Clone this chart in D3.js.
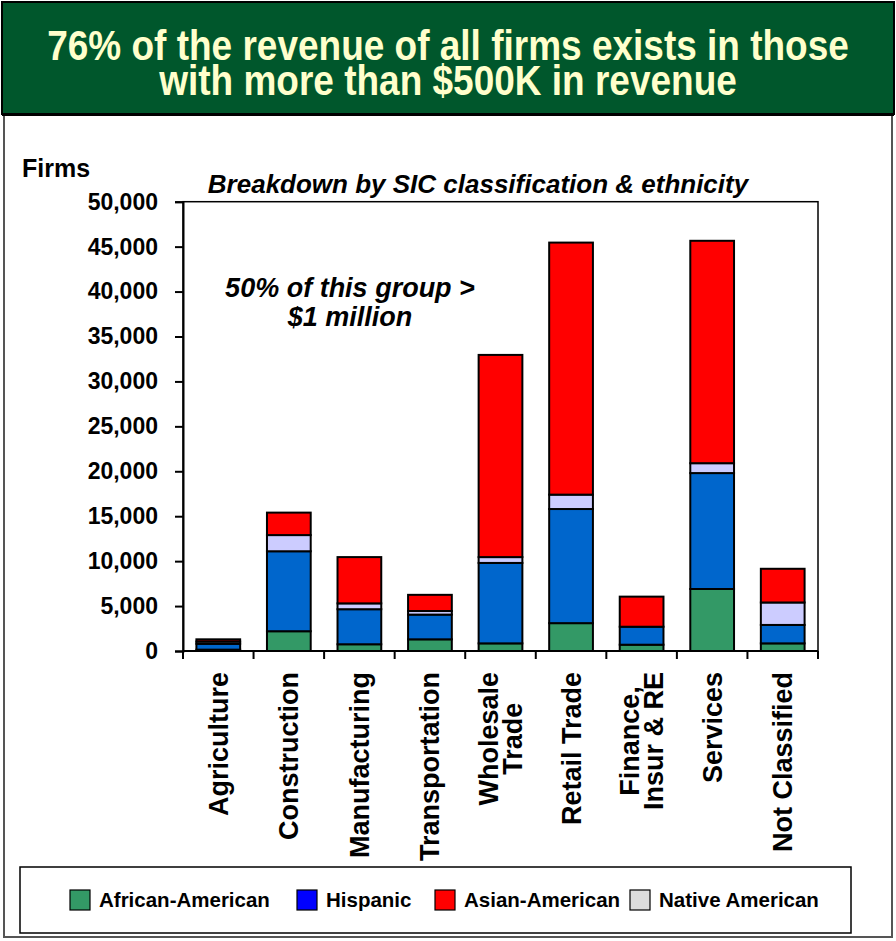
<!DOCTYPE html>
<html>
<head>
<meta charset="utf-8">
<script src="https://cdn.jsdelivr.net/npm/d3@7/dist/d3.min.js"></script>
<style>
  html, body { margin: 0; padding: 0; background: #ffffff; }
  svg { display: block; }
  text { font-family: "Liberation Sans", Arial, Helvetica, sans-serif; }
</style>
</head>
<body>
<svg id="chart" width="896" height="941"></svg>
<script>
// ---------- data ----------
const titleLines = ["76% of the revenue of all firms exists in those", "with more than $500K in revenue"];
const subtitle = "Breakdown by SIC classification & ethnicity";
const noteLines = ["50% of this group >", "$1 million"];
const yAxisLabel = "Firms";
const categories = ["Agriculture", "Construction", "Manufacturing", "Transportation", "Wholesale Trade", "Retail Trade", "Finance, Insur & RE", "Services", "Not Classified"];
const categoryLines = [["Agriculture"], ["Construction"], ["Manufacturing"], ["Transportation"], ["Wholesale", "Trade"], ["Retail Trade"], ["Finance,", "Insur & RE"], ["Services"], ["Not Classified"]];
const africanAmerican = [150, 2200, 750, 1300, 850, 3100, 700, 6900, 850];
const hispanic = [650, 8900, 3900, 2750, 8950, 12700, 2000, 12900, 2050];
const nativeAmerican = [250, 1800, 650, 400, 650, 1600, 0, 1100, 2500];
const asianAmerican = [250, 2500, 5150, 1800, 22500, 28050, 3350, 24750, 3750];
const yTicks = [0, 5000, 10000, 15000, 20000, 25000, 30000, 35000, 40000, 45000, 50000];
const legendNames = ["African-American", "Hispanic", "Asian-American", "Native American"];

// ---------- styles ----------
const barColors = { "African-American": "#339966", "Hispanic": "#0066CC", "Native American": "#CCCCFF", "Asian-American": "#FF0000" };
const legendColors = { "African-American": "#339966", "Hispanic": "#0000FF", "Asian-American": "#FF0000", "Native American": "#DDDDDD" };
const stackOrder = ["African-American", "Hispanic", "Native American", "Asian-American"];
const seriesData = { "African-American": africanAmerican, "Hispanic": hispanic, "Native American": nativeAmerican, "Asian-American": asianAmerican };

const svg = d3.select("#chart");

// outer panel
svg.append("rect").attr("x", 4).attr("y", 2).attr("width", 888).attr("height", 935)
  .attr("fill", "#fff").attr("stroke", "#555").attr("stroke-width", 2);

// title block
svg.append("rect").attr("x", 2).attr("y", 2).attr("width", 892).attr("height", 112)
  .attr("fill", "#00572C").attr("stroke", "#000").attr("stroke-width", 2);
svg.append("line").attr("x1", 2).attr("x2", 894).attr("y1", 114.5).attr("y2", 114.5)
  .attr("stroke", "#000").attr("stroke-width", 3);
const titleScaleY = 1.15;
const title = svg.append("text").attr("transform", `translate(448,0) scale(1,${titleScaleY})`)
  .attr("text-anchor", "middle").attr("fill", "#FFFFCC")
  .attr("font-size", 37).attr("font-weight", "bold");
title.selectAll("tspan").data(titleLines).join("tspan")
  .attr("x", 0).attr("y", (d, i) => (60 + i * 35) / titleScaleY).text(d => d);

// scales
const plotLeft = 183, plotRight = 818, plotTop = 201.7, plotBottom = 651;
const x = d3.scaleBand().domain(categories).range([plotLeft, plotRight]).padding(0);
const y = d3.scaleLinear().domain([0, 50000]).range([plotBottom, plotTop]);
const barW = x.bandwidth() * 0.62;

// stack
const rows = categories.map((c, i) => {
  const r = { category: c };
  stackOrder.forEach(k => r[k] = seriesData[k][i]);
  return r;
});
const stacked = d3.stack().keys(stackOrder)(rows);

// plot frame
svg.append("rect").attr("x", plotLeft).attr("y", plotTop)
  .attr("width", plotRight - plotLeft).attr("height", plotBottom - plotTop)
  .attr("fill", "none").attr("stroke", "#000").attr("stroke-width", 1.5);

// bars
const g = svg.append("g");
stacked.forEach(layer => {
  g.selectAll(null).data(layer).join("rect")
    .attr("x", d => x(d.data.category) + (x.bandwidth() - barW) / 2)
    .attr("y", d => y(d[1]))
    .attr("width", barW)
    .attr("height", d => y(d[0]) - y(d[1]))
    .attr("fill", barColors[layer.key])
    .attr("stroke", "#000").attr("stroke-width", 2);
});

// y axis
const yAxis = svg.append("g").attr("transform", `translate(${plotLeft},0)`)
  .call(d3.axisLeft(y).tickValues(yTicks).tickSize(8).tickPadding(17).tickFormat(d3.format(",")));
yAxis.select(".domain").attr("stroke", "#000").attr("stroke-width", 2);
yAxis.selectAll(".tick line").attr("stroke", "#000").attr("stroke-width", 2);
yAxis.selectAll(".tick text").attr("font-size", 23).attr("font-weight", "bold")
  .attr("fill", "#000").attr("font-family", "Liberation Sans, Arial, sans-serif");

// x axis baseline and boundary ticks
svg.append("line").attr("x1", plotLeft).attr("x2", plotRight).attr("y1", plotBottom).attr("y2", plotBottom)
  .attr("stroke", "#000").attr("stroke-width", 2);
const boundaries = categories.map(c => x(c)).concat([plotRight]);
svg.selectAll("line.xtick").data(boundaries).join("line").attr("class", "xtick")
  .attr("x1", d => d).attr("x2", d => d).attr("y1", plotBottom).attr("y2", plotBottom + 8)
  .attr("stroke", "#000").attr("stroke-width", 2);

// x labels (rotated, multi-line in one text element)
const labelTop = 672, lineH = 24;
categories.forEach((c, i) => {
  const cx = x(c) + x.bandwidth() / 2;
  const lines = categoryLines[i];
  const t = svg.append("text").attr("font-size", 27).attr("font-weight", "bold").attr("fill", "#000")
    .attr("text-anchor", "middle");
  const spans = t.selectAll("tspan").data(lines).join("tspan")
    .attr("x", 0)
    .attr("y", (d, j) => (j - (lines.length - 1) / 2) * lineH)
    .attr("dy", "0.35em").text(d => d);
  const maxLen = d3.max(spans.nodes(), n => n.getComputedTextLength());
  t.attr("transform", `translate(${cx},${labelTop + maxLen / 2}) rotate(-90)`);
});

// axis title, subtitle, note
svg.append("text").attr("x", 22).attr("y", 177).attr("font-size", 25).attr("font-weight", "bold").text(yAxisLabel);
svg.append("text").attr("x", 478).attr("y", 193).attr("text-anchor", "middle")
  .attr("font-size", 26).attr("font-weight", "bold").attr("font-style", "italic").text(subtitle);
const note = svg.append("text").attr("text-anchor", "middle")
  .attr("font-size", 27).attr("font-weight", "bold").attr("font-style", "italic");
note.selectAll("tspan").data(noteLines).join("tspan")
  .attr("x", 350).attr("y", (d, i) => 297 + i * 29).text(d => d);

// legend
svg.append("rect").attr("x", 20).attr("y", 867).attr("width", 831).attr("height", 66)
  .attr("fill", "#fff").attr("stroke", "#000").attr("stroke-width", 1.5);
const legendX = [70, 297, 435, 630];
legendNames.forEach((n, i) => {
  svg.append("rect").attr("x", legendX[i]).attr("y", 890).attr("width", 20).attr("height", 20)
    .attr("fill", legendColors[n]).attr("stroke", "#000").attr("stroke-width", 1.2);
  svg.append("text").attr("x", legendX[i] + 29).attr("y", 907).attr("font-size", 20.5)
    .attr("font-weight", "bold").attr("fill", "#000").text(n);
});
</script>
</body>
</html>
